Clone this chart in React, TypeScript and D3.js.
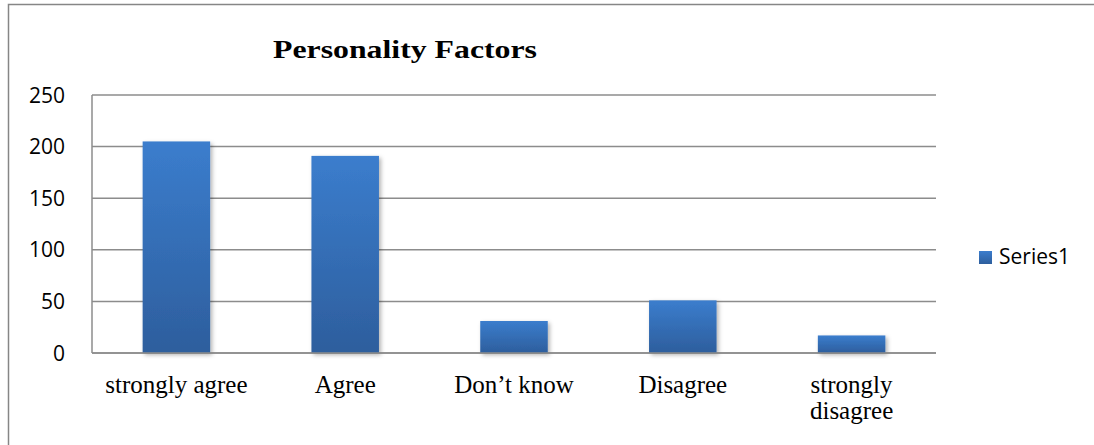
import React, { useEffect, useRef } from "react";
import * as d3 from "d3";

// chart data
const categories = ["strongly agree", "Agree", "Don’t know", "Disagree", "strongly disagree"];
const series1 = [205, 191, 31, 51, 17];
const yTicks = [0, 50, 100, 150, 200, 250];
const seriesName = "Series1";
const title = "Personality Factors";

const App = () => {
  const svgRef = useRef<SVGSVGElement>(null);
  const w = 1094;
  const h = 445;
  const m = { left: 92, right: 158, top: 95, bottom: 92 };

  useEffect(() => {
    const svg = d3.select(svgRef.current);
    svg.selectAll("*").remove();

    //scales
    const x = d3
      .scaleBand<string>()
      .domain(categories)
      .range([m.left, w - m.right])
      .paddingInner(0.6)
      .paddingOuter(0.3);
    const y = d3.scaleLinear().domain([0, 250]).range([h - m.bottom, m.top]);

    //gradient + shadow for the bars
    const defs = svg.append("defs");
    const grad = defs
      .append("linearGradient")
      .attr("id", "barGrad")
      .attr("x1", 0)
      .attr("y1", 0)
      .attr("x2", 0)
      .attr("y2", 1);
    grad.append("stop").attr("offset", "0%").attr("stop-color", "#3b7dcd");
    grad.append("stop").attr("offset", "100%").attr("stop-color", "#2d5e9d");
    const shadow = defs
      .append("filter")
      .attr("id", "barShadow")
      .attr("x", "-20%")
      .attr("y", "-20%")
      .attr("width", "150%")
      .attr("height", "150%");
    shadow
      .append("feDropShadow")
      .attr("dx", 2)
      .attr("dy", 2)
      .attr("stdDeviation", 2)
      .attr("flood-color", "#000")
      .attr("flood-opacity", 0.3);

    //outer chart frame: only top and left edges are inside the picture
    svg
      .append("path")
      .attr("d", `M8.5,${h} V4.5 H${w}`)
      .attr("fill", "none")
      .attr("stroke", "#868686")
      .attr("stroke-width", 1.5);

    //title
    svg
      .append("text")
      .attr("x", 405)
      .attr("y", 58)
      .attr("text-anchor", "middle")
      .style("font-family", "'Liberation Serif', 'DejaVu Serif', serif")
      .style("font-weight", "bold")
      .style("font-size", "26px")
      .attr("textLength", 264)
      .attr("lengthAdjust", "spacingAndGlyphs")
      .attr("fill", "#000")
      .text(title);

    //gridlines
    svg
      .append("g")
      .selectAll("line")
      .data(yTicks)
      .join("line")
      .attr("x1", m.left)
      .attr("x2", w - m.right)
      .attr("y1", (d) => y(d))
      .attr("y2", (d) => y(d))
      .attr("stroke", "#8c8c8c")
      .attr("stroke-width", 1.5);

    //y axis line + labels
    svg
      .append("line")
      .attr("x1", m.left)
      .attr("x2", m.left)
      .attr("y1", y(0))
      .attr("y2", y(250))
      .attr("stroke", "#8c8c8c")
      .attr("stroke-width", 1.5);
    svg
      .append("g")
      .selectAll("text")
      .data(yTicks)
      .join("text")
      .attr("x", 65)
      .attr("y", (d) => y(d))
      .attr("dy", "0.36em")
      .attr("text-anchor", "end")
      .style("font-family", "'Open Sans', 'Liberation Sans', sans-serif")
      .style("font-size", "21px")
      .attr("fill", "#000")
      .text((d) => d);

    //bars
    svg
      .append("g")
      .selectAll("rect")
      .data(series1)
      .join("rect")
      .attr("x", (d, i) => x(categories[i]) as number)
      .attr("width", x.bandwidth())
      .attr("y", (d) => y(d))
      .attr("height", (d) => y(0) - y(d))
      .attr("fill", "url(#barGrad)")
      .attr("filter", "url(#barShadow)");

    //x axis line drawn over bars
    svg
      .append("line")
      .attr("x1", m.left)
      .attr("x2", w - m.right)
      .attr("y1", y(0))
      .attr("y2", y(0))
      .attr("stroke", "#8c8c8c")
      .attr("stroke-width", 1.5);

    //category labels, wrapped when wider than the band step
    const labels = svg
      .append("g")
      .selectAll("text")
      .data(categories)
      .join("text")
      .attr("x", (d) => (x(d) as number) + x.bandwidth() / 2)
      .attr("y", 393)
      .attr("text-anchor", "middle")
      .style("font-family", "'Liberation Serif', 'DejaVu Serif', serif")
      .style("font-size", "25px")
      .attr("fill", "#000");
    labels.each(function (d) {
      const t = d3.select(this);
      const cx = t.attr("x");
      t.text(d);
      const len = (this as SVGTextElement).getComputedTextLength();
      if (len > x.step() - 10) {
        t.text(null);
        d.split(" ").forEach((word, k) => {
          t.append("tspan")
            .attr("x", cx)
            .attr("dy", k === 0 ? 0 : 26)
            .text(word);
        });
      }
    });

    //legend
    const lg = svg.append("g").attr("transform", `translate(979, 251)`);
    lg.append("rect").attr("width", 13).attr("height", 13).attr("fill", "url(#barGrad)");
    lg.append("text")
      .attr("x", 20)
      .attr("y", 13)
      .style("font-family", "'Open Sans', 'Liberation Sans', sans-serif")
      .style("font-size", "21px")
      .attr("fill", "#000")
      .text(seriesName);
  }, []);

  return (
    <svg
      ref={svgRef}
      width={w}
      height={h}
      style={{ position: "absolute", left: 0, top: 0, background: "#fff" }}
    />
  );
};

export default App;
